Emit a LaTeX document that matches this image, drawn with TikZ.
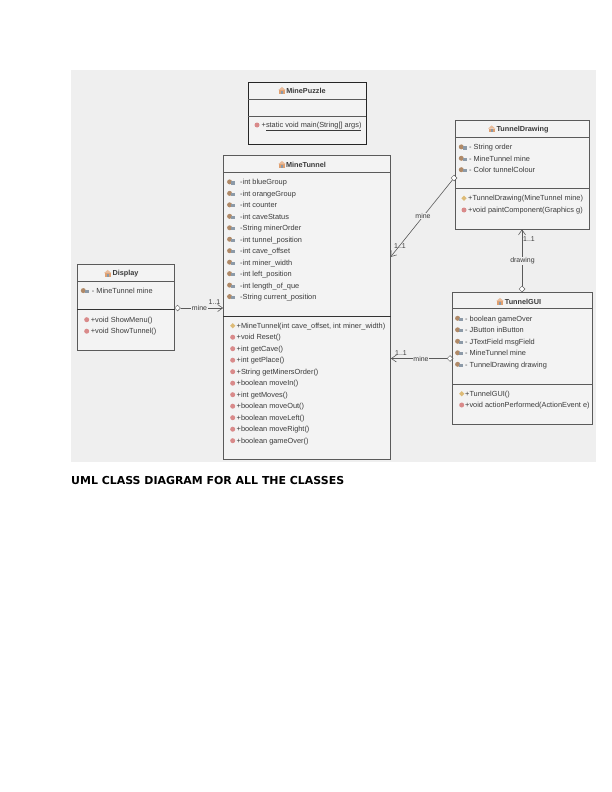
\documentclass[tikz,border=0pt]{standalone}
\usepackage{fontspec}
\setmainfont{Liberation Sans}
\newfontfamily\captionfont{DejaVu Sans}
\usetikzlibrary{arrows.meta}
\usetikzlibrary{shapes.geometric}
\definecolor{panelgrey}{HTML}{EFEFEF}
\definecolor{boxgrey}{HTML}{F3F3F3}
\definecolor{edgegrey}{HTML}{5A5A5A}
\definecolor{textgrey}{HTML}{3A3A3A}
\definecolor{fieldbrown}{HTML}{B08A68}
\definecolor{fieldblue}{HTML}{8C9AA8}
\definecolor{methodred}{HTML}{D98A8A}
\definecolor{ctorgold}{HTML}{DDBB77}
\definecolor{iconorange}{HTML}{E0A070}
\tikzset{
        % Class boxes
        class_box/.style={rectangle, draw=edgegrey, fill=boxgrey, line width=0.7pt, inner sep=0pt},
        % Lines inside the boxes
        head_line/.style={draw=edgegrey, line width=0.6pt},
        part_line/.style={draw=black!80, line width=0.7pt},
        % Texts
        class_name/.style={inner sep=0pt, textgrey, font=\fontsize{7.3}{8}\selectfont\bfseries},
        member/.style={anchor=base west, yshift=-2.5bp, inner sep=0pt, textgrey, font=\fontsize{7.4}{8}\selectfont},
        link_label/.style={inner sep=0.6pt, textgrey, font=\fontsize{7}{8}\selectfont},
        % Connectors
        link/.style={-{Straight Barb[length=5bp, width=7bp]}, draw=edgegrey, line width=0.6pt},
        link_end/.style={diamond, draw=edgegrey, fill=white, line width=0.5pt, inner sep=0pt, minimum width=6bp, minimum height=6bp},
        % Icons
        field_icon/.pic={
            \fill[fieldbrown] (-1.4,-0.4) circle (2.5);
            \fill[fieldblue] (0.3,-1) rectangle (3.8,2.2);
        },
        method_icon/.pic={
            \fill[methodred] (0,0) circle (2.5);
        },
        ctor_icon/.pic={
            \fill[ctorgold] (0,-2.6) -- (2.6,0) -- (0,2.6) -- (-2.6,0) -- cycle;
        },
        class_icon/.pic={
            \fill[iconorange] (-3,3) rectangle (3,-0.5);
            \fill[iconorange!70] (-3.6,-0.5) -- (0,-3.6) -- (3.6,-0.5) -- cycle;
            \fill[fieldblue] (-0.8,3) rectangle (0.9,0.4);
        }
}
\begin{document}
\begin{tikzpicture}[x=1bp, y=-1bp]
    \useasboundingbox (0,0) rectangle (612,792);
    \fill[panelgrey] (71,70) rectangle (596,462);

    % The classes
    \node[class_box, draw=black!85, minimum width=118bp, minimum height=62bp] (minePuzzle) at (307,113) {};
    \node[class_box, minimum width=167bp, minimum height=304bp] (mineTunnel) at (307,307.2) {};
    \node[class_box, minimum width=97bp, minimum height=85.5bp] (display) at (126,307.2) {};
    \node[class_box, minimum width=133.5bp, minimum height=109bp] (tunnelDrawing) at (522.2,174.5) {};
    \node[class_box, minimum width=139.5bp, minimum height=132bp] (tunnelGUI) at (522.2,358) {};

    % Lines inside the classes
    \draw[head_line] ([yshift=-17.5bp]minePuzzle.north west) -- ([yshift=-17.5bp]minePuzzle.north east);
    \draw[head_line] ([yshift=-34.8bp]minePuzzle.north west) -- ([yshift=-34.8bp]minePuzzle.north east);
    \draw[head_line] ([yshift=-17bp]mineTunnel.north west) -- ([yshift=-17bp]mineTunnel.north east);
    \draw[part_line] ([yshift=-161bp]mineTunnel.north west) -- ([yshift=-161bp]mineTunnel.north east);
    \draw[head_line] ([yshift=-17bp]display.north west) -- ([yshift=-17bp]display.north east);
    \draw[part_line] ([yshift=-45.5bp]display.north west) -- ([yshift=-45.5bp]display.north east);
    \draw[head_line] ([yshift=-17.5bp]tunnelDrawing.north west) -- ([yshift=-17.5bp]tunnelDrawing.north east);
    \draw[head_line] ([yshift=-69bp]tunnelDrawing.north west) -- ([yshift=-69bp]tunnelDrawing.north east);
    \draw[head_line] ([yshift=-17bp]tunnelGUI.north west) -- ([yshift=-17bp]tunnelGUI.north east);
    \draw[head_line] ([yshift=-92.5bp]tunnelGUI.north west) -- ([yshift=-92.5bp]tunnelGUI.north east);

    % Names of the classes
    \node[class_name] (minePuzzleName) at (306,90.8) {MinePuzzle};
    \node[class_name] (mineTunnelName) at (306,164.5) {MineTunnel};
    \node[class_name] (displayName) at (125.5,273.8) {Display};
    \node[class_name] (tunnelDrawingName) at (522.5,129.3) {TunnelDrawing};
    \node[class_name] (tunnelGUIName) at (523,302) {TunnelGUI};
    \pic at (282,90.5) {class_icon};
    \pic at (282,164.5) {class_icon};
    \pic at (107.7,273.5) {class_icon};
    \pic at (491.7,129) {class_icon};
    \pic at (500,301.5) {class_icon};

    % Members of MinePuzzle
    \pic at (257,125) {method_icon};
    \node[member] (minePuzzleM) at (261.5,125) {+\underline{static void main(String[] args)}};

    % Members of MineTunnel
    \foreach \txt [count=\i from 0] in {-int blueGroup, -int orangeGroup, -int counter, -int caveStatus, -String minerOrder, -int tunnel\_position, -int cave\_offset, -int miner\_width, -int left\_position, -int length\_of\_que, -String current\_position} {
        \pic at (231,{182.3+11.47*\i}) {field_icon};
        \node[member] (mineTunnelF\i) at (240,{182.3+11.47*\i}) {\txt};
    }
    \pic at (232.7,325.7) {ctor_icon};
    \node[member] (mineTunnelC) at (236.5,325.7) {+MineTunnel(int cave\_offset, int miner\_width)};
    \foreach \txt [count=\i from 1] in {+void Reset(), +int getCave(), +int getPlace(), +String getMinersOrder(), +boolean moveIn(), +int getMoves(), +boolean moveOut(), +boolean moveLeft(), +boolean moveRight(), +boolean gameOver()} {
        \pic at (232.7,{325.7+11.5*\i}) {method_icon};
        \node[member] (mineTunnelM\i) at (236.5,{325.7+11.5*\i}) {\txt};
    }

    % Members of Display
    \pic at (84.7,291) {field_icon};
    \node[member] (displayF) at (91.7,291) {- MineTunnel mine};
    \foreach \txt [count=\i from 0] in {+void ShowMenu(), +void ShowTunnel()} {
        \pic at (86.7,{319.7+11.5*\i}) {method_icon};
        \node[member] (displayM\i) at (90.7,{319.7+11.5*\i}) {\txt};
    }

    % Members of TunnelDrawing
    \foreach \txt [count=\i from 0] in {- String order, - MineTunnel mine, - Color tunnelColour} {
        \pic at (462.7,{147.3+11.4*\i}) {field_icon};
        \node[member] (tunnelDrawingF\i) at (469,{147.3+11.4*\i}) {\txt};
    }
    \pic at (464,198.3) {ctor_icon};
    \node[member] (tunnelDrawingC) at (468,198.3) {+TunnelDrawing(MineTunnel mine)};
    \pic at (464,210) {method_icon};
    \node[member] (tunnelDrawingM) at (468,210) {+void paintComponent(Graphics g)};

    % Members of TunnelGUI
    \foreach \txt [count=\i from 0] in {- boolean gameOver, - JButton inButton, - JTextField msgField, - MineTunnel mine, - TunnelDrawing drawing} {
        \pic at (459,{318.7+11.5*\i}) {field_icon};
        \node[member] (tunnelGUIF\i) at (465,{318.7+11.5*\i}) {\txt};
    }
    \pic at (461.7,393.7) {ctor_icon};
    \node[member] (tunnelGUIC) at (465,393.7) {+TunnelGUI()};
    \pic at (461.7,405) {method_icon};
    \node[member] (tunnelGUIM) at (465,405) {+void actionPerformed(ActionEvent e)};

    % Connectors
    \node[link_end] (displayEnd) at (177.5,308) {};
    \node[link_end] (guiEnd) at (450,358.5) {};
    \node[link_end] (drawingEnd) at (454,178) {};
    \node[link_end] (drawingGuiEnd) at (522,289) {};
    \coordinate (tunnelIn) at (390.5,257);
    \draw[link] (displayEnd) -- (displayEnd -| mineTunnel.west);
    \draw[link] (guiEnd) -- (guiEnd -| mineTunnel.east);
    \draw[link] (drawingEnd) -- (tunnelIn);
    \draw[link] (drawingGuiEnd) -- (drawingGuiEnd |- tunnelDrawing.south);

    % Connector labels
    \node[link_label, fill=panelgrey] (displayRole) at (199.5,308.5) {mine};
    \node[link_label] (displayCard) at (214.5,302.5) {1..1};
    \node[link_label, fill=panelgrey] (guiRole) at (421,359) {mine};
    \node[link_label] (guiCard) at (401,353) {1..1};
    \node[link_label, fill=panelgrey] (drawingRole) at (423,216) {mine};
    \node[link_label] (drawingCard) at (400,246.5) {1..1};
    \node[link_label, fill=panelgrey] (drawingGuiRole) at (522.5,261) {drawing};
    \node[link_label] (drawingGuiCard) at (529,239.5) {1..1};

    % Caption
    \node[anchor=west, inner sep=0pt, font=\captionfont\fontsize{11}{13}\selectfont\bfseries] (diagramCaption) at (71,481) {UML CLASS DIAGRAM FOR ALL THE CLASSES};
\end{tikzpicture}
\end{document}
